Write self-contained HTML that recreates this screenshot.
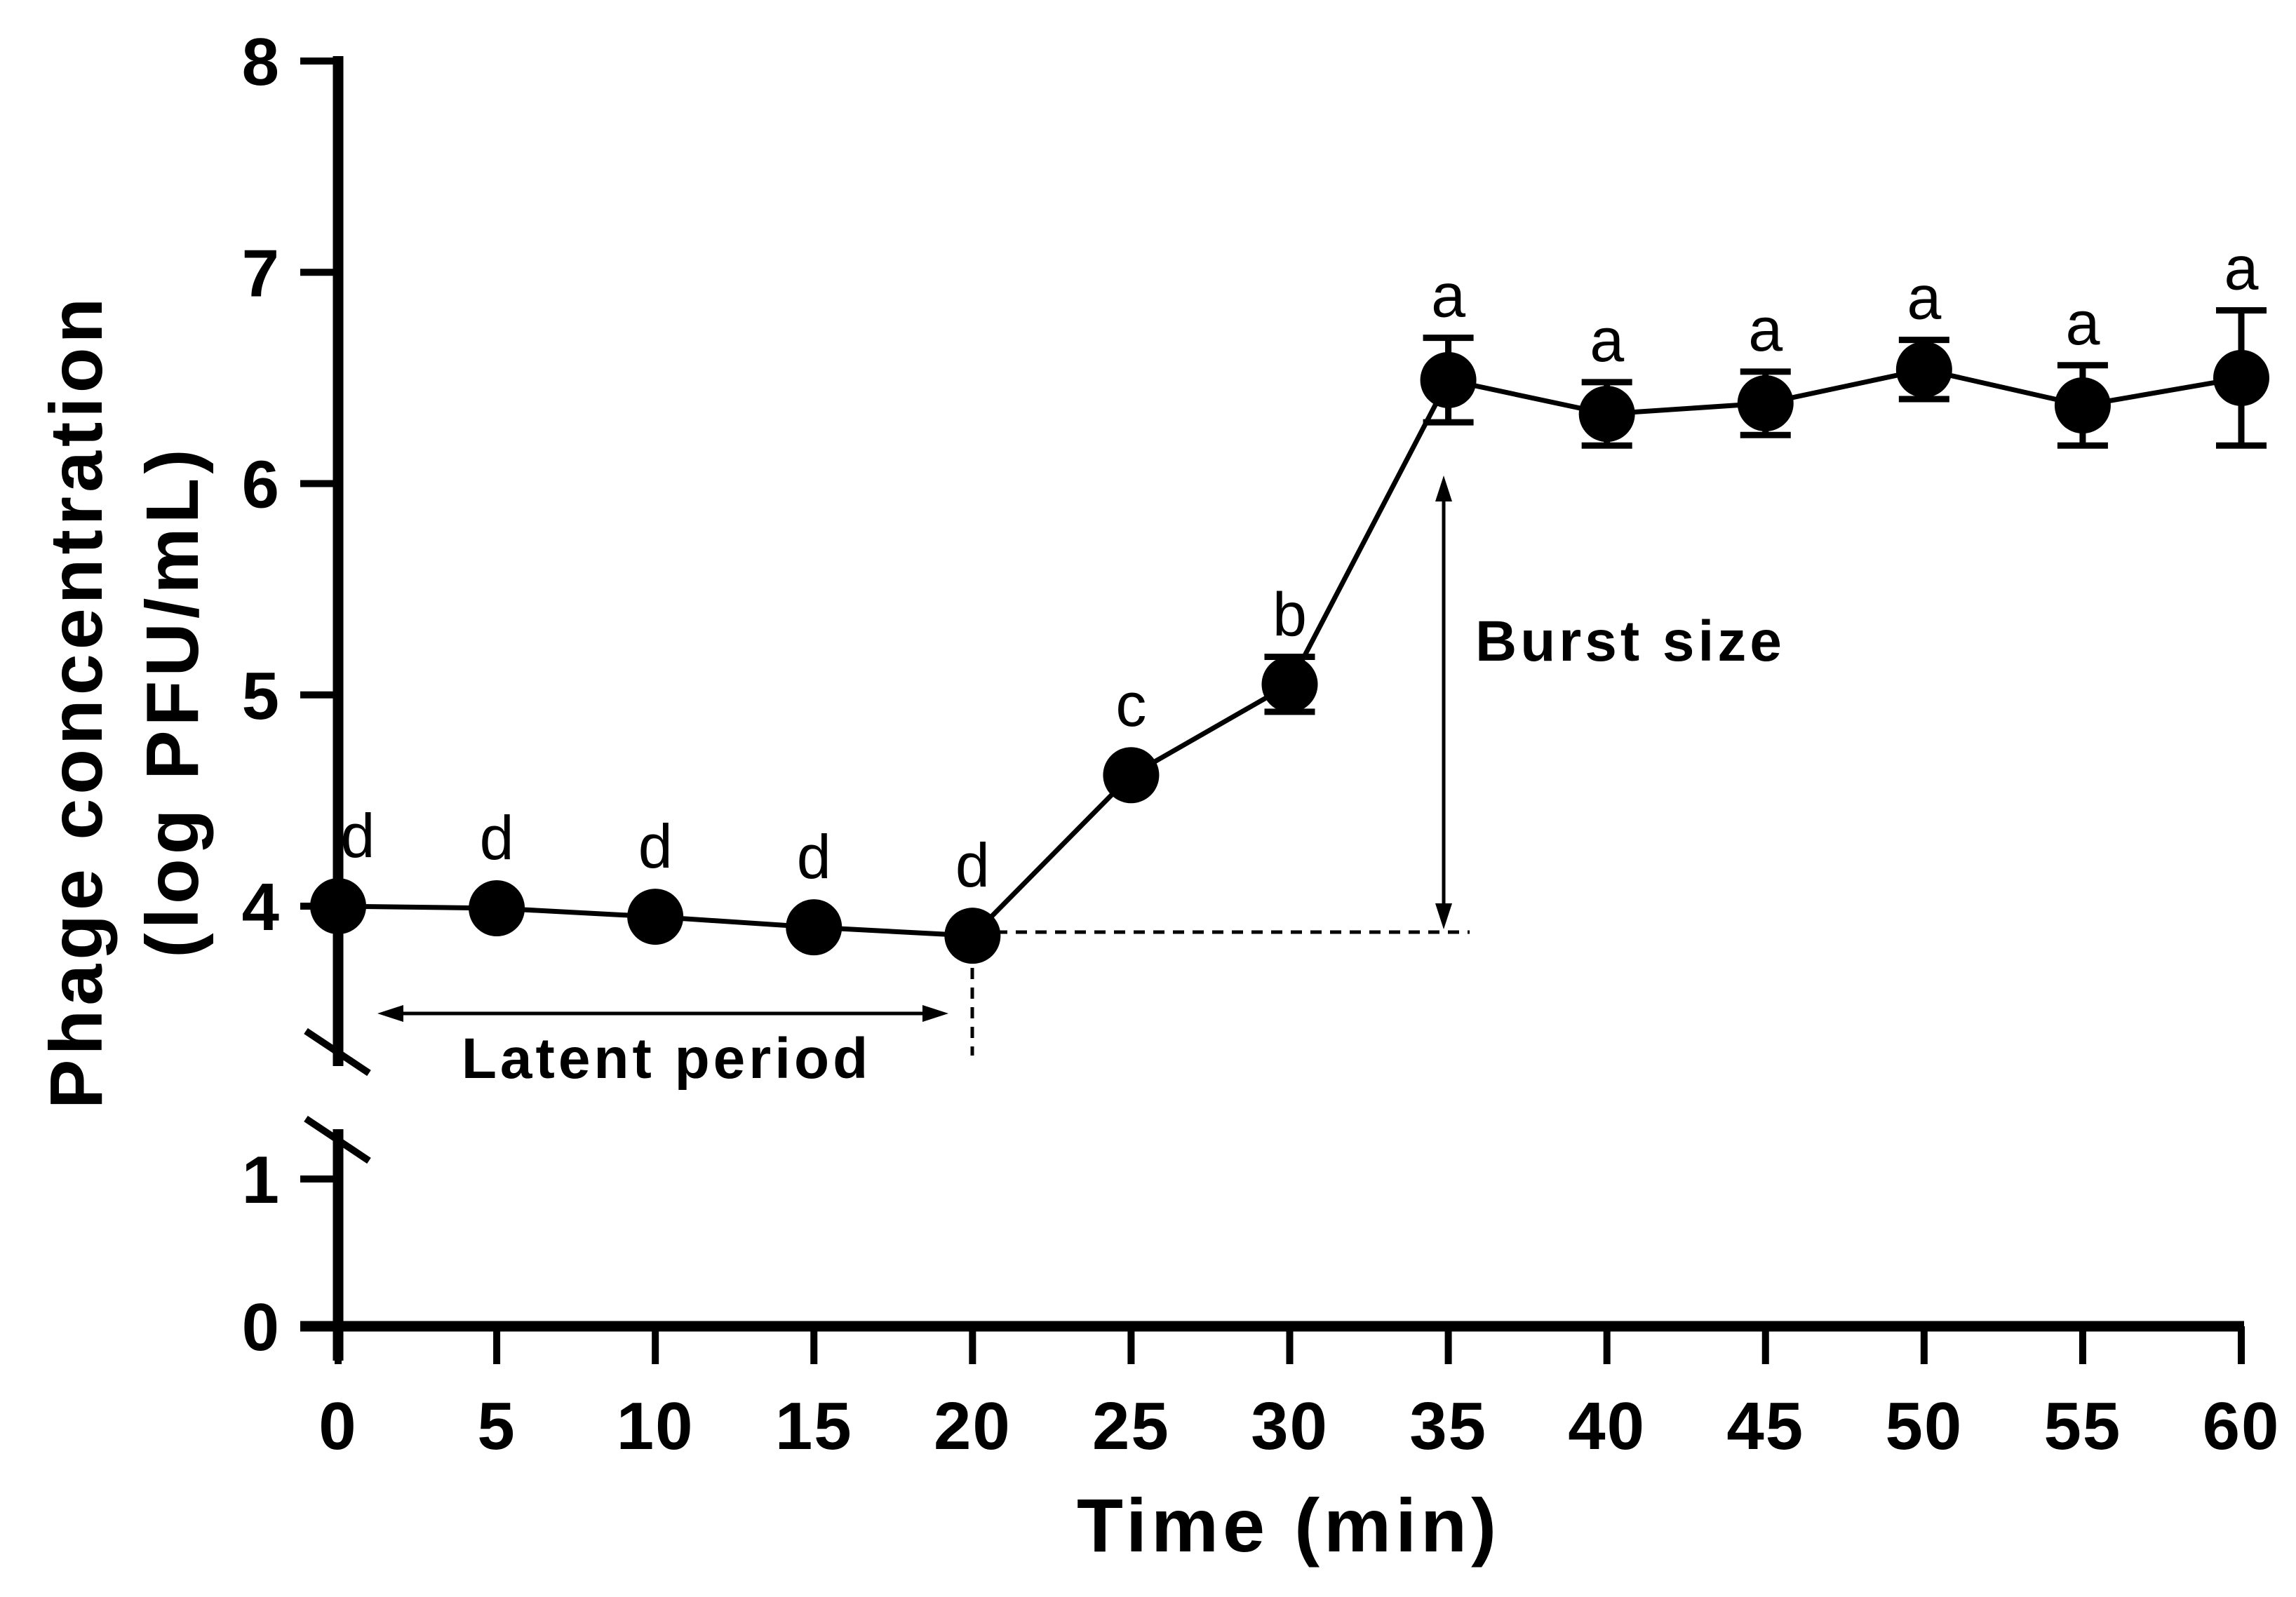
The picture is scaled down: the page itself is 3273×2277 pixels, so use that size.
<!DOCTYPE html>
<html><head><meta charset="utf-8"><style>
html,body{margin:0;padding:0;background:#fff;}
svg{display:block;}
text{font-family:"Liberation Sans",Arial,sans-serif;fill:#000;}
</style></head><body>
<svg id="chart" width="3273" height="2277" viewBox="0 0 3273 2277">
<g id="axes"></g>
<g id="marks"></g>
<g id="annot">
  <line x1="1386" y1="1352" x2="1386" y2="1505" stroke="#000" stroke-width="5" stroke-dasharray="16,12"/>
  <line x1="1420" y1="1329" x2="2095" y2="1329" stroke="#000" stroke-width="5" stroke-dasharray="16,12"/>
  <line x1="560" y1="1445" x2="1330" y2="1445" stroke="#000" stroke-width="5"/>
  <polygon points="538,1445 575,1433 575,1457" fill="#000"/>
  <polygon points="1352,1445 1315,1433 1315,1457" fill="#000"/>
  <text x="950" y="1537" font-size="82" font-weight="bold" text-anchor="middle" letter-spacing="5">Latent period</text>
  <line x1="2058" y1="700" x2="2058" y2="1305" stroke="#000" stroke-width="5"/>
  <polygon points="2058,678 2046,715 2070,715" fill="#000"/>
  <polygon points="2058,1325 2046,1288 2070,1288" fill="#000"/>
  <text x="2103" y="942" font-size="82" font-weight="bold" letter-spacing="5">Burst size</text>
</g>
<text x="1837" y="2212" font-size="108" font-weight="bold" text-anchor="middle" letter-spacing="6">Time (min)</text>
<g transform="translate(0,1000) rotate(-90)">
  <text x="0" y="145" font-size="106" font-weight="bold" text-anchor="middle" letter-spacing="6">Phage concentration</text>
  <text x="0" y="282" font-size="106" font-weight="bold" text-anchor="middle" letter-spacing="6">(log PFU/mL)</text>
</g>
</svg>
<script>
const times = [0,5,10,15,20,25,30,35,40,45,50,55,60];
const means = [4.00,3.99,3.95,3.90,3.86,4.62,5.05,6.49,6.33,6.38,6.54,6.37,6.50];
const errs  = [0.02,0.02,0.02,0.02,0.02,0.02,0.13,0.20,0.15,0.15,0.14,0.19,0.32];
const letters = ["d","d","d","d","d","c","b","a","a","a","a","a","a"];
const xTicks = [0,5,10,15,20,25,30,35,40,45,50,55,60];
const yTicksUpper = [4,5,6,7,8];
const yTicksLower = [0,1];

const NS = "http://www.w3.org/2000/svg";
function xs(v){ return 482 + (v/60)*(3195-482); }
function ys(v){ return v >= 2 ? 1292 - (v-4)*301.25 : 1891 - v*210; }
function mk(tag, attrs, parent){
  const e = document.createElementNS(NS, tag);
  for (const k in attrs) e.setAttribute(k, attrs[k]);
  parent.appendChild(e); return e;
}
const axes = document.getElementById('axes');
const marks = document.getElementById('marks');

let el = mk('line',{x1:482,y1:80,x2:482,y2:1520,stroke:'#000','stroke-width':15},axes);


el = mk('line',{x1:482,y1:1610,x2:482,y2:1940,stroke:'#000','stroke-width':15},axes);


[[1470,1530],[1595,1655]].forEach(function(p){
  const b = mk('line',{x1:436,y1:p[0],x2:526,y2:p[1],stroke:'#000','stroke-width':10},axes);
  
  
});
el = mk('line',{x1:428,y1:1891,x2:3199,y2:1891,stroke:'#000','stroke-width':15},axes);



yTicksUpper.concat(yTicksLower).forEach(function(v){
  const y = ys(v);
  const t = mk('line',{x1:428,y1:y,x2:482,y2:y,stroke:'#000','stroke-width':10},axes);
  
  
  const lb = mk('text',{x:398,y:y+34,'font-size':96,'font-weight':'bold','text-anchor':'end'},axes);
  lb.textContent = v;
  
  
});
xTicks.forEach(function(v){
  const x = xs(v);
  const t = mk('line',{x1:x,y1:1891,x2:x,y2:1945,stroke:'#000','stroke-width':10},axes);
  
  
  const lb = mk('text',{x:x,y:2066,'font-size':96,'font-weight':'bold','text-anchor':'middle','letter-spacing':2},axes);
  lb.textContent = v;
  
  
});

const pts = times.map(function(t,i){ return xs(t)+','+ys(means[i]); }).join(' ');
el = mk('polyline',{points:pts,fill:'none',stroke:'#000','stroke-width':7},marks);



times.forEach(function(t,i){
  const x = xs(t), y = ys(means[i]);
  if (errs[i] > 0.05){
    const yt = ys(means[i]+errs[i]), yb = ys(means[i]-errs[i]);
    const g = mk('path',{d:'M'+x+','+yt+'V'+yb+'M'+(x-36)+','+yt+'H'+(x+36)+'M'+(x-36)+','+yb+'H'+(x+36),stroke:'#000','stroke-width':9,fill:'none'},marks);
    
    
  }
  const c = mk('circle',{cx:x,cy:y,r:40,fill:'#000'},marks);
  
  
  const top = errs[i] > 0.05 ? ys(means[i]+errs[i]) : y - 40;
  const lx = (i === 0) ? x + 28 : x;
  const lb = mk('text',{x:lx,y:top-30,'font-size':88,'text-anchor':'middle'},marks);
  lb.textContent = letters[i];
  
  
});
</script>
</body></html>
